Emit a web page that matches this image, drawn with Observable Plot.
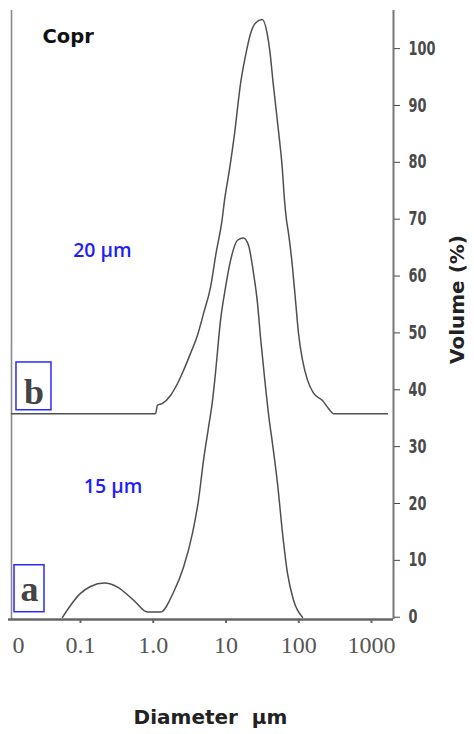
<!DOCTYPE html>
<html>
<head>
<meta charset="utf-8">
<script src="https://cdn.jsdelivr.net/npm/d3@7"></script>
<script src="https://cdn.jsdelivr.net/npm/@observablehq/plot@0.6"></script>
<style>
  html, body { margin: 0; padding: 0; background: #fff; }
  svg text { white-space: pre; }
</style>
</head>
<body>
<script>
// ---- Data ----
// Curve a (15 µm sample): diameter (µm) and volume (%)
const diamA = [0.0566, 0.1, 0.1372, 0.2137, 0.3226, 0.5353, 0.8337, 1.258, 1.898, 2.605, 3.463, 4.188, 4.906, 5.748, 6.523, 7.172, 8.403, 9.843, 11.53, 14.39, 17.40, 20.39, 23.88, 27.10, 29.80, 33.82, 39.00, 43.58, 51.05, 59.79, 70.04, 84.70, 112.6];
const volA  = [0, 4.2, 5.4, 6.0, 5.3, 3.0, 0.9, 0.9, 4.4, 8.8, 14.8, 20.6, 27.6, 33.4, 38.1, 43.0, 52.2, 58.0, 62.7, 66.3, 66.7, 65.4, 60.5, 55.2, 49.2, 42.2, 35.0, 30.5, 23.5, 14.8, 7.7, 3.0, 0];

// Curve b (20 µm sample), drawn on an offset baseline
const diamB = [0.01126, 1.074, 1.144, 1.340, 1.726, 2.154, 2.605, 3.251, 4.058, 4.906, 6.123, 7.289, 8.810, 9.537, 11.28, 13.09, 15.82, 19.13, 21.72, 25.44, 31.45, 36.84, 40.01, 44.56, 53.19, 59.24, 63.70, 67.86, 72.31, 82.06, 90.22, 99.22, 112.6, 131.9, 159.5, 212.1, 256.4, 300.4, 1659];
const volB  = [35.8, 35.8, 37.3, 37.6, 39.0, 41.1, 43.4, 46.4, 49.6, 53.4, 58.0, 64.0, 69.8, 73.3, 79.1, 85.0, 93.8, 99.6, 102.6, 104.5, 105.1, 102.6, 99.6, 93.8, 85.0, 79.1, 73.3, 69.8, 67.5, 61.5, 55.7, 49.9, 45.2, 41.7, 39.4, 38.1, 36.7, 35.8, 35.8];

// Axis ticks
const xTickValues = [0.01406, 0.1, 1, 10, 100, 1000];
const xTickLabels = ["0", "0.1", "1.0", "10", "100", "1000"];
const xDecades = [0.1, 1, 10, 100, 1000];
const yTicks = [0, 10, 20, 30, 40, 50, 60, 70, 80, 90, 100];

// Annotations (sample tags and sizes)
const sampleTags = ["a", "b"];
const sampleSizes = ["15 µm", "20 µm"];

// ---- Build tables ----
const curveA = diamA.map((d, i) => ({d, v: volA[i]}));
const curveB = diamB.map((d, i) => ({d, v: volB[i]}));
const xLabelMap = new Map(xTickValues.map((v, i) => [v, xTickLabels[i]]));

const xDomain = [0.01126, 2005];
const yDomain = [-0.4, 106.7];

const tagBoxes = [
  {tag: sampleTags[0], x1: 0.01239, x2: 0.0320, y1: 0.88, y2: 9.14, tx: 0.0199, ty: 4.96},
  {tag: sampleTags[1], x1: 0.01318, x2: 0.0399, y1: 36.4, y2: 44.8, tx: 0.02297, ty: 39.6}
];
const sizeLabels = [
  {text: sampleSizes[0], x: 0.280, y: 22.9},
  {text: sampleSizes[1], x: 0.200, y: 64.5}
];

const serif = "'Liberation Serif', 'DejaVu Serif', serif";
const sans = "'DejaVu Sans', Verdana, sans-serif";

const chart = Plot.plot({
  width: 474,
  height: 734,
  marginTop: 10,
  marginRight: 81,
  marginBottom: 115,
  marginLeft: 11,
  style: {background: "#fff", overflow: "visible"},
  x: {type: "log", domain: xDomain},
  y: {domain: yDomain},
  marks: [
    // frame lines
    Plot.ruleX([xDomain[0]], {stroke: "#8a8a8a", strokeWidth: 1.6}),
    Plot.ruleX([xDomain[1]], {stroke: "#777", strokeWidth: 2}),
    Plot.ruleY([yDomain[0]], {stroke: "#666", strokeWidth: 2.5, insetLeft: -3}),
    // right y axis
    Plot.axisY({
      anchor: "right", ticks: yTicks, tickSize: 6, tickPadding: 9, label: null,
      color: "#4a4a4a", fontFamily: "'DejaVu Sans', sans-serif", fontWeight: "bold", fontSize: 19
    }),
    // bottom x axis: tick marks
    Plot.axisX({ticks: xDecades, tickSize: 4, tickFormat: () => "", label: null, stroke: "#666", strokeWidth: 2}),
    // bottom x axis: labels
    Plot.axisX({
      ticks: xTickValues, tickSize: 0, tickPadding: 16, label: null,
      tickFormat: d => xLabelMap.get(d),
      fill: "#555", fontFamily: serif, fontSize: 24
    }),
    // curves
    Plot.line(curveB, {x: "d", y: "v", stroke: "#4f4f4f", strokeWidth: 1.5, curve: "monotone-x"}),
    Plot.line(curveA, {x: "d", y: "v", stroke: "#4f4f4f", strokeWidth: 1.5, curve: "monotone-x"}),
    // sample tags in blue boxes
    Plot.rect(tagBoxes, {x1: "x1", x2: "x2", y1: "y1", y2: "y2", fill: "none", stroke: "#2a2aff", strokeWidth: 1.5}),
    Plot.text(tagBoxes, {x: "tx", y: "ty", text: "tag", fontFamily: serif, fontWeight: "bold", fontSize: 36, fill: "#444"}),
    // size labels
    Plot.text(sizeLabels, {x: "x", y: "y", text: "text", fill: "#1e1eff", fontFamily: "'Open Sans', sans-serif", fontWeight: 600, fontSize: 19.5}),
    // title
    Plot.text(["Copr"], {x: 0.0300, y: 102.1, text: d => d, textAnchor: "start", fontFamily: sans, fontWeight: "bold", fontSize: 19.5, fill: "#111"}),
    // axis titles
    Plot.text(["Volume (%)"], {frameAnchor: "right", text: d => d, rotate: -90, textAnchor: "middle", lineAnchor: "middle", dx: 64, dy: -15.5, fontFamily: sans, fontWeight: "bold", fontSize: 20, fill: "#222"}),
    Plot.text(["Diameter\u00a0 µm"], {frameAnchor: "bottom", text: d => d, textAnchor: "middle", lineAnchor: "middle", dx: 8, dy: 97.6, fontFamily: sans, fontWeight: "bold", fontSize: 20, fill: "#222"})
  ]
});

// Condense the right-axis tick labels (the reference uses a narrow bold face)
d3.select(chart).selectAll('g[aria-label="y-axis tick label"] text').each(function() {
  const t = this.getAttribute("transform");
  if (t) {
    this.setAttribute("transform", t + " scale(0.68,1)");
  } else {
    const x = +this.getAttribute("x") || 0, y = +this.getAttribute("y") || 0;
    this.removeAttribute("x"); this.removeAttribute("y");
    this.setAttribute("transform", `translate(${x},${y}) scale(0.68,1)`);
  }
});
document.body.appendChild(chart);
</script>
</body>
</html>
